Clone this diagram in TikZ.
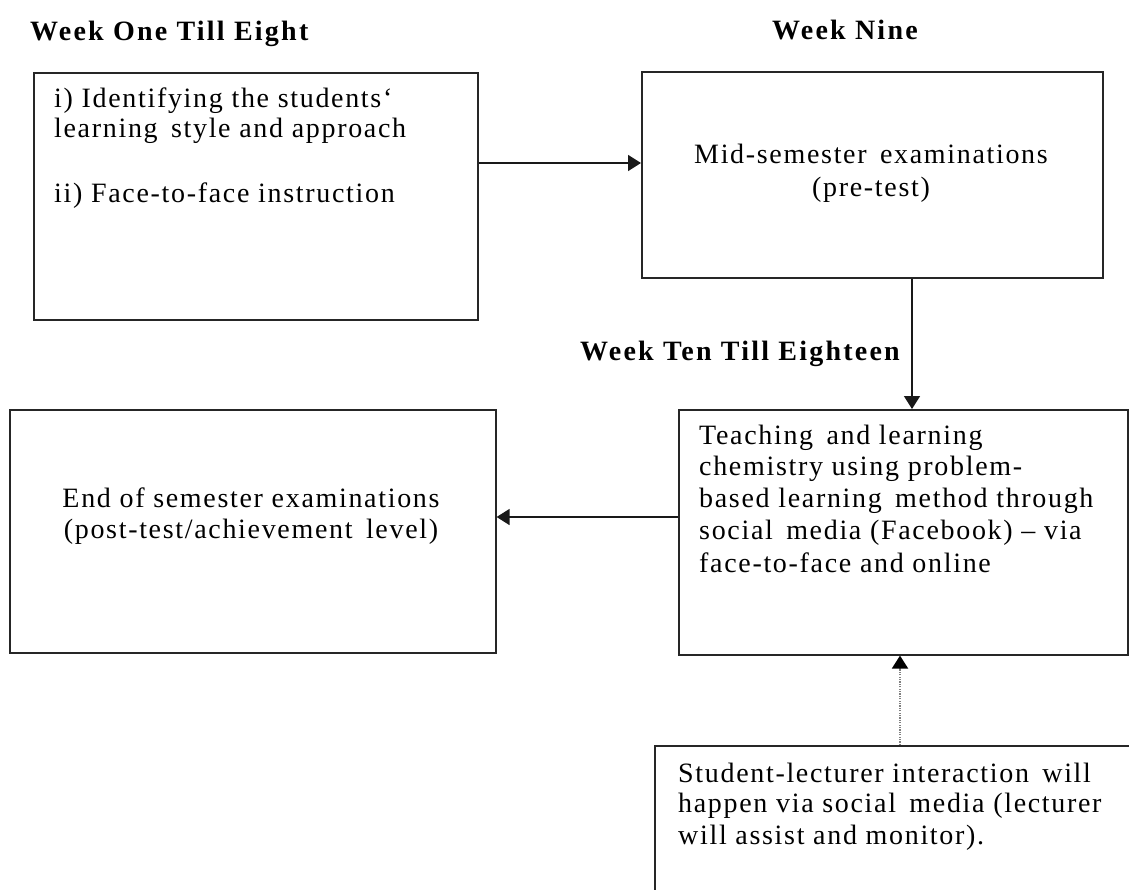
\documentclass[tikz,border=0pt]{standalone}
\usepackage{fontspec}
\setmainfont{Liberation Serif}[LetterSpace=6]
\newfontfamily\headfont{Liberation Serif}[LetterSpace=8]
\usetikzlibrary{arrows.meta}
\tikzset{
  box/.style={draw=black!85, line width=1.6pt, rectangle, anchor=north west, inner sep=0pt, fill=none},
  txt/.style={anchor=base west, inner sep=0pt, font=\fontsize{28}{32}\selectfont},
  ctxt/.style={anchor=base, inner sep=0pt, font=\fontsize{28}{32}\selectfont},
  head/.style={anchor=base west, inner sep=0pt, font=\headfont\fontsize{28}{32}\selectfont\bfseries},
  arr/.style={line width=1.6pt, draw=black!90, -{Triangle[length=13pt,width=16pt]}},
  dotarr/.style={line width=2pt, draw=black!50, dash pattern=on 1.2pt off 1.2pt, -{Triangle[length=13pt,width=16pt,color=black,fill=black]}}
}
\begin{document}
\begin{tikzpicture}[x=1pt,y=-1pt]
\useasboundingbox (0,0) rectangle (1129,890);
\fill[white] (0,0) rectangle (1129,890);
\begin{scope}
\clip (0,0) rectangle (1129,890);
% boxes
\node[box, minimum width=444pt, minimum height=247pt] (A) at (33,72) {};
\node[box, minimum width=461pt, minimum height=206pt] (B) at (641,71) {};
\node[box, minimum width=449pt, minimum height=245pt] (C) at (678,409) {};
\node[box, minimum width=486pt, minimum height=243pt] (D) at (9,409) {};
\node[box, minimum width=520pt, minimum height=200pt] (E) at (654,745) {};
\end{scope}
% headings
\node[head] (h1) at (30,41) {Week One Till Eight};
\node[head] (h2) at (772,40) {Week Nine};
\node[head, anchor=base east] (h3) at (900,360) {Week Ten Till Eighteen};
% box A text
\node[txt] (a1) at (54,108) {i) Identifying the students‘};
\node[txt] (a2) at (54,138) {learning\, style and approach};
\node[txt] (a3) at (54,203) {ii) Face-to-face instruction};
% box B text
\node[ctxt] (b1) at (871,164) {Mid-semester\, examinations};
\node[ctxt] (b2) at (871,197) {(pre-test)};
% box C text
\node[txt] (c1) at (699,444) {Teaching\, and learning};
\node[txt] (c2) at (699,475) {chemistry using problem-};
\node[txt] (c3) at (699,507) {based learning\, method through};
\node[txt] (c4) at (699,539) {social\, media (Facebook) – via};
\node[txt] (c5) at (699,572) {face-to-face and online};
% box D text
\node[ctxt] (d1) at (251,507) {End of semester examinations};
\node[ctxt] (d2) at (251,538) {(post-test/achievement\, level)};
% box E text
\node[txt] (e1) at (678,782) {Student-lecturer interaction\, will};
\node[txt] (e2) at (678,812) {happen via social\, media (lecturer};
\node[txt] (e3) at (678,844) {will assist and monitor).};
% connectors
\coordinate (yab) at (0,163);
\coordinate (xbc) at (912,0);
\coordinate (ycd) at (0,517);
\coordinate (xec) at (900,0);
\draw[arr] (A.east |- yab) -- (B.west |- yab);
\draw[arr] (B.south -| xbc) -- (C.north -| xbc);
\draw[arr] (C.west |- ycd) -- (D.east |- ycd);
\draw[dotarr] (E.north -| xec) -- (C.south -| xec);
\end{tikzpicture}
\end{document}
